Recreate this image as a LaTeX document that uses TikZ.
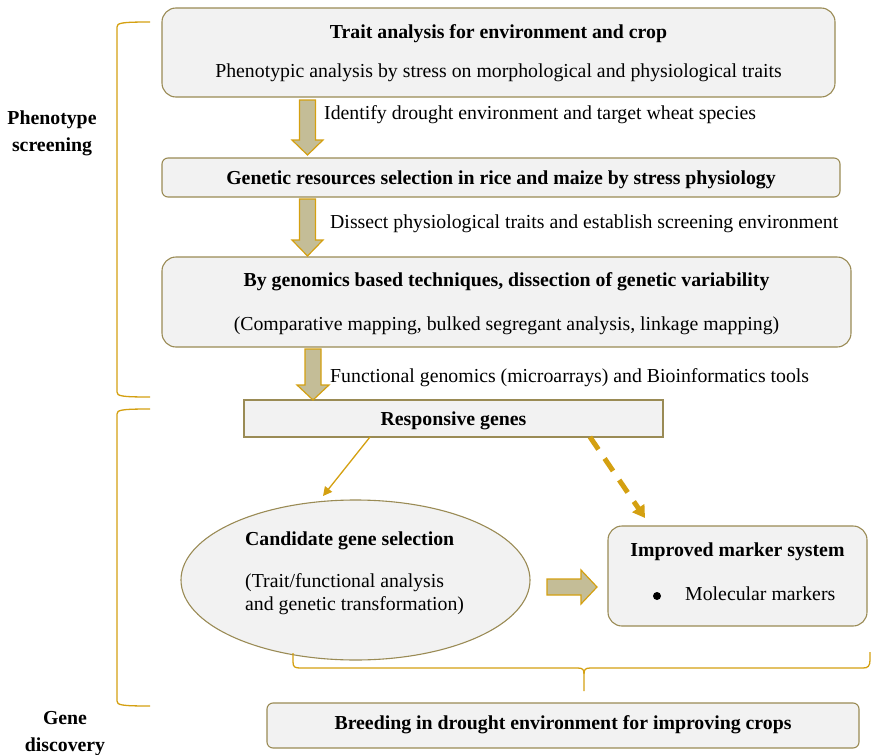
\documentclass[tikz,border=0pt]{standalone}
\usepackage{fontspec}
\setmainfont{Liberation Serif}
\usetikzlibrary{arrows.meta,shapes.geometric}
\definecolor{boxfill}{HTML}{F2F2F2}
\definecolor{boxline}{HTML}{9A8B55}
\definecolor{gold}{HTML}{D4A011}
\definecolor{tan}{HTML}{C4BD97}
\tikzset{
  rbox/.style={draw=boxline,fill=boxfill,line width=1.1pt,rounded corners=14pt},
  sbox/.style={draw=boxline,fill=boxfill,line width=1.1pt,rounded corners=6pt},
  pbox/.style={draw=boxline,fill=boxfill,line width=1.1pt},
  blk/.style={draw=gold,fill=tan,line width=1.2pt,line join=miter},
  brk/.style={draw=gold,line width=1.3pt},
  txt/.style={inner sep=0pt,font=\fontsize{19.8}{23}\selectfont},
  btxt/.style={inner sep=0pt,font=\fontsize{19.8}{23}\selectfont\bfseries},
}
\begin{document}
\begin{tikzpicture}[x=1pt,y=-1pt]
\useasboundingbox (0,0) rectangle (871,755);
% boxes
\draw[rbox] (162,8) rectangle (835,97);
\node[btxt,anchor=base] (t1) at (498.5,38) {Trait analysis for environment and crop};
\node[txt,anchor=base] (t1b) at (498.5,77) {Phenotypic analysis by stress on morphological and physiological traits};
\draw[sbox] (162,158) rectangle (840,197);
\node[btxt,anchor=base] (t2) at (501,184) {Genetic resources selection in rice and maize by stress physiology};
\draw[rbox] (162,257) rectangle (851,347);
\node[btxt,anchor=base] (t3) at (506.5,286) {By genomics based techniques, dissection of genetic variability};
\node[txt,anchor=base] (t3b) at (506.5,330) {(Comparative mapping, bulked segregant analysis, linkage mapping)};
\node[pbox,minimum width=419pt,minimum height=37pt,inner sep=0pt] (rg) at (453.5,418.5) {};
\node[btxt,anchor=base] at (453.5,425) {Responsive genes};
\node[ellipse,draw=boxline,fill=boxfill,line width=1.1pt,minimum width=349pt,minimum height=160pt,inner sep=0pt] (cg) at (355.5,580) {};
\node[btxt,anchor=base west] (c1) at (245,545) {Candidate gene selection};
\node[txt,anchor=base west,align=left] (c2) at (245,587) {(Trait/functional analysis};
\node[txt,anchor=base west,align=left] (c3) at (245,610) {and genetic transformation)};
\draw[rbox] (608,526) rectangle (867,626);
\node[btxt,anchor=base] (m1) at (737.5,556) {Improved marker system};
\fill (657,596) circle (4pt);
\node[txt,anchor=base west] (m2) at (685,600) {Molecular markers};
\draw[sbox] (267,703) rectangle (859,748);
\node[btxt,anchor=base] (b1) at (563,729) {Breeding in drought environment for improving crops};
% block arrows
\draw[blk] (299.5,100) -- (315.5,100) -- (315.5,140) -- (323,140) -- (307.5,155) -- (292,140) -- (299.5,140) -- cycle;
\node[txt,anchor=base west] (l1) at (324,119) {Identify drought environment and target wheat species};
\draw[blk] (299.5,199) -- (315.5,199) -- (315.5,240) -- (323,240) -- (307.5,256) -- (292,240) -- (299.5,240) -- cycle;
\node[txt,anchor=base west] (l2) at (330,228) {Dissect physiological traits and establish screening environment};
\draw[blk] (305,349) -- (321,349) -- (321,385) -- (329,385) -- (313,400) -- (297,385) -- (305,385) -- cycle;
\node[txt,anchor=base west] (l3) at (330,382) {Functional genomics (microarrays) and Bioinformatics tools};
\draw[blk] (547,579) -- (581,579) -- (581,570) -- (597,587) -- (581,604) -- (581,595) -- (547,595) -- cycle;
% thin arrows
\coordinate (a1s) at (370,437);
\coordinate (a1e) at (323,496);
\draw[gold,line width=1.3pt,-{Triangle[length=9pt,width=9pt]}] (a1s) -- (a1e);
\coordinate (a2s) at (590,437);
\coordinate (a2e) at (645,518);
\draw[gold,line width=5pt,dash pattern=on 15pt off 11pt,-{Triangle[length=12pt,width=14pt]}] (a2s) -- (a2e);
% brackets
\draw[brk] (150,22) .. controls (121,22) and (117,23) .. (117,27) -- (117,392) .. controls (117,396) and (121,397) .. (150,397);
\draw[brk] (150,409) .. controls (121,409) and (117,410) .. (117,414) -- (117,701) .. controls (117,705) and (121,706) .. (150,706);
\draw[brk] (293,653) -- (293,662) .. controls (293,667) and (295,668) .. (300,668) -- (578,668) .. controls (583,668) and (584,670) .. (584,674) -- (584,691);
\draw[brk] (584,674) .. controls (584,670) and (585,668) .. (590,668) -- (863,668) .. controls (868,668) and (870,666) .. (870,660) -- (870,652);
% side labels
\node[btxt,anchor=base] (p1) at (52,124) {Phenotype};
\node[btxt,anchor=base] (p2) at (52,151) {screening};
\node[btxt,anchor=base] (g1) at (65,724) {Gene};
\node[btxt,anchor=base] (g2) at (65,751) {discovery};
\end{tikzpicture}
\end{document}
